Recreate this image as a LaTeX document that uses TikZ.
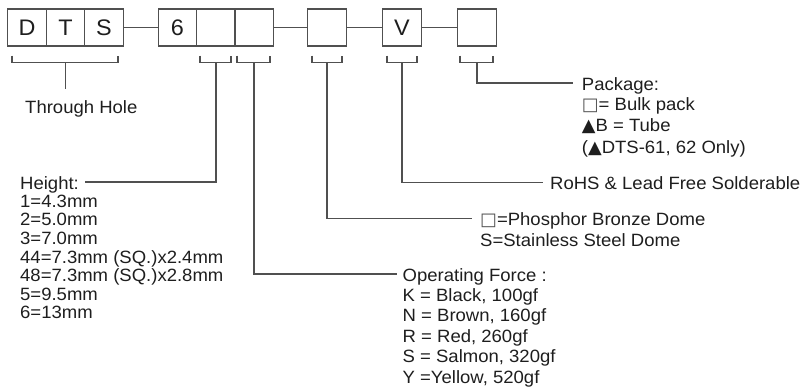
\documentclass[tikz,border=0pt]{standalone}
\usepackage{fontspec}
\setmainfont[FakeStretch=1.04]{Liberation Sans}
\newfontfamily\symfont{DejaVu Sans}
\usetikzlibrary{calc}
\definecolor{linegray}{HTML}{505050}
\definecolor{txt}{HTML}{1E1E1E}
\newcommand\emptysq{{\symfont\color{linegray}□}}
\newcommand\filltri{{\symfont ▲}}

\begin{document}
\begin{tikzpicture}[x=1pt,y=-1pt,
    cell/.style={draw=linegray,line width=1.4pt,minimum width=38.5pt,minimum height=37pt,inner sep=0pt,text=txt,font=\fontsize{22.5}{24}\selectfont},
    title/.style={anchor=base west,inner sep=0pt,text=txt,font=\fontsize{17.8}{20}\selectfont},
    list/.style={anchor=north west,inner sep=0pt,align=left,text=txt},
    wire/.style={draw=linegray,line width=1.5pt}]
    \useasboundingbox (0,0) rectangle (808,391);

    % ячейки кода
    \node[cell] (d) at (27,27.5) {D};
    \node[cell] (t) at (65.5,27.5) {T};
    \node[cell] (s) at (104,27.5) {S};
    \node[cell] (six) at (177.5,27.5) {6};
    \node[cell] (h) at (216,27.5) {};
    \node[cell] (f) at (254,27.5) {};
    \node[cell] (m) at (327,27.5) {};
    \node[cell] (v) at (402,27.5) {V};
    \node[cell] (p) at (477,27.5) {};

    % связки
    \draw[wire] (s) -- (six);
    \draw[wire] (f) -- (m);
    \draw[wire] (m) -- (v);
    \draw[wire] (v) -- (p);

    % подписи
    \node[title] (thru) at (25,113.3) {Through Hole};
    \node[title] (hgt) at (20,189) {Height:};
    \node[list,font=\fontsize{17.8}{18.6}\selectfont] (hgtlist) at (20,194.7)
        {1=4.3mm\\2=5.0mm\\3=7.0mm\\44=7.3mm (SQ.)x2.4mm\\48=7.3mm (SQ.)x2.8mm\\5=9.5mm\\6=13mm};
    \node[title] (opf) at (402.5,281) {Operating Force :};
    \node[list,font=\fontsize{17.8}{20.5}\selectfont] (opflist) at (402.5,288.3)
        {K = Black, 100gf\\N = Brown, 160gf\\R = Red, 260gf\\S = Salmon, 320gf\\Y =Yellow, 520gf};
    \node[title] (dome) at (480,225.7) {\emptysq=Phosphor Bronze Dome};
    \node[list,font=\fontsize{17.8}{20}\selectfont] (domelist) at (480,233)
        {S=Stainless Steel Dome};
    \node[title] (rohs) at (550,189.3) {RoHS \& Lead Free Solderable};
    \node[title] (pkg) at (581.7,90) {Package:};
    \node[list,font=\fontsize{17.8}{21.3}\selectfont] (pkglist) at (581.7,97.3)
        {\emptysq= Bulk pack\\\filltri B = Tube\\(\filltri DTS-61, 62 Only)};

    % скобки
    \draw[wire] ($(d.south west)+(5,9)$) |- ($(s.south east)+(-6,16)$) -- ++(0,-7);
    \draw[wire] ($(t.south)+(0,16)$) -- ($(t.south)+(0,42)$);
    \draw[wire] ($(h.south west)+(4,9)$) |- ($(h.south east)+(-5,16)$) -- ++(0,-7);
    \draw[wire] ($(h.south)+(0,16)$) |- ($(hgt.base east)+(6,-7)$);
    \draw[wire] ($(f.south west)+(3,9)$) |- ($(f.south east)+(-4,16)$) -- ++(0,-7);
    \draw[wire] ($(f.south)+(0,16)$) |- ($(opf.base west)+(-6,-7)$);
    \draw[wire] ($(m.south west)+(5,9)$) |- ($(m.south east)+(-5,16)$) -- ++(0,-7);
    \draw[wire] ($(m.south)+(0,16)$) |- ($(dome.base west)+(-8,-7)$);
    \draw[wire] ($(v.south west)+(5,9)$) |- ($(v.south east)+(-5,16)$) -- ++(0,-7);
    \draw[wire] ($(v.south)+(0,16)$) |- ($(rohs.base west)+(-7,-7)$);
    \draw[wire] ($(p.south west)+(3,9)$) |- ($(p.south east)+(-4,16)$) -- ++(0,-7);
    \draw[wire] ($(p.south)+(0,16)$) |- ($(pkg.base west)+(-9,-7)$);
\end{tikzpicture}
\end{document}
